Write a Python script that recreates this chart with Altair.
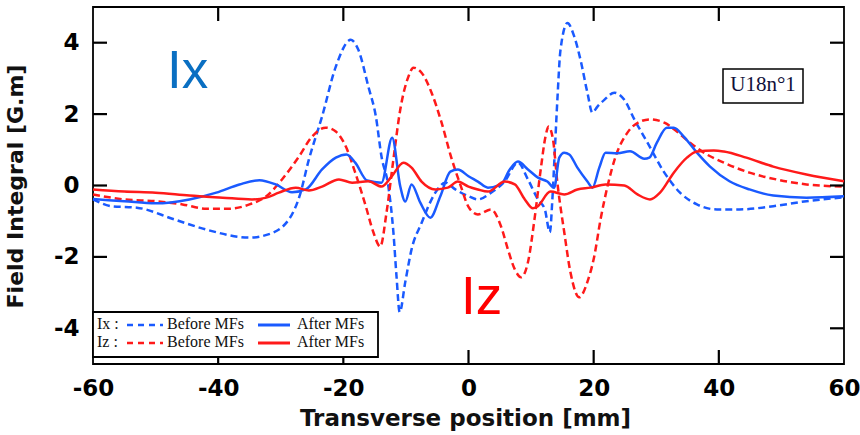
import altair as alt
import pandas as pd

# ---------------- data ----------------
ix_before_x = [-60, -57, -53, -47, -42, -35, -32, -28.7, -27, -25.5, -23.4, -21.2, -18.8, -17.6, -16, -14.8,
               -13.9, -12.8, -12, -11.5, -11, -10.1, -9.1, -7.5, -5.3, -3.7, -2.1, 0, 1.5, 3.6, 5.8, 7.9, 9.5,
               11.1, 12.2, 13, 13.4, 13.8, 14.2, 14.7, 15.8, 16.9, 17.9, 19, 19.8, 20.6, 21.7, 23.3, 24.9, 26.5,
               28.6, 31.3, 33.8, 36.5, 39.7, 43.3, 48.7, 54, 60]
ix_before_y = [-0.39, -0.58, -0.62, -0.95, -1.23, -1.46, -1.37, -0.95, -0.3, 0.73, 1.93, 3.33, 4.08, 3.8, 2.77,
               1.93, 0.81, -0.03, -1.31, -2.55, -3.55, -2.7, -1.79, -1.05, -0.2, 0.08, -0.11, -0.3, -0.39, -0.2,
               0.12, 0.64, 0.17, -0.39, -0.67, -1.31, -0.39, 1.0, 2.4, 3.8, 4.55, 4.17, 3.52, 2.6, 2.04, 2.21,
               2.4, 2.6, 2.4, 1.85, 1.2, 0.36, -0.2, -0.53, -0.67, -0.67, -0.58, -0.44, -0.33]

ix_after_x = [-60, -55, -50, -44.6, -40.3, -36.6, -33.4, -30.8, -28.2, -26, -23.4, -21.2, -19.5, -18.1, -16.2,
              -13.9, -12.2, -10.9, -10.1, -9.1, -7.7, -6.1, -4.5, -2.9, -1.7, 0, 1.5, 3.1, 5.2, 6.6, 7.9, 9.5,
              11.1, 12.6, 13.7, 14.5, 15.3, 16.1, 17.4, 19, 19.8, 20.9, 21.9, 23.8, 25.8, 28.1, 28.9, 30.1,
              31.7, 32.8, 34.4, 36.5, 38.6, 41.7, 44.9, 48.7, 54, 60]
ix_after_y = [-0.38, -0.44, -0.5, -0.39, -0.2, 0.03, 0.15, 0.03, -0.19, -0.11, 0.45, 0.78, 0.87, 0.64, 0.14,
              0.08, 1.34, -0.03, -0.45, 0.03, -0.48, -0.9, -0.3, 0.39, 0.45, 0.26, 0.11, -0.06, 0.03, 0.45,
              0.67, 0.45, 0.22, 0.11, -0.06, 0.78, 0.92, 0.87, 0.5, 0.11, -0.06, 0.5, 0.92, 0.9, 0.96, 0.75,
              0.78, 1.2, 1.62, 1.62, 1.37, 0.92, 0.53, 0.12, -0.11, -0.28, -0.34, -0.3]

iz_before_x = [-60, -55, -50, -45.7, -41.9, -38.2, -35, -32.3, -29.8, -27.1, -25, -22.8, -21.2, -19.6, -18.1,
               -16.4, -15.2, -14.1, -13.1, -12, -10.9, -9.6, -8.8, -7.5, -5.9, -4.3, -2.8, -1.2, 0, 1.5, 3.6,
               5.2, 6.3, 7.4, 8.4, 9.5, 10.6, 11.6, 12.3, 12.8, 13.5, 14.2, 15.3, 16.3, 17.7, 19, 20.1, 21.1,
               22.2, 23.5, 25.4, 27.4, 29, 31.3, 33.3, 35.4, 37.6, 40.8, 44.9, 49.2, 54, 60]
iz_before_y = [-0.25, -0.39, -0.44, -0.53, -0.65, -0.65, -0.53, -0.3, 0.17, 0.81, 1.37, 1.62, 1.51, 1.09, 0.36,
               -0.59, -1.31, -1.71, -0.76, 0.73, 2.13, 3.05, 3.3, 3.16, 2.6, 1.76, 0.81, -0.03, -0.6, -0.81,
               -0.67, -1.15, -1.79, -2.35, -2.57, -2.15, -0.87, 0.53, 1.37, 1.65, 1.29, 0.08, -1.31, -2.44,
               -3.13, -2.7, -1.98, -0.95, -0.03, 0.81, 1.48, 1.79, 1.85, 1.76, 1.51, 1.2, 0.92, 0.64, 0.36,
               0.17, 0.03, -0.03]

iz_after_x = [-60, -55, -50, -44.6, -39.3, -34.6, -32.3, -30.3, -27.6, -25.5, -23.4, -20.7, -18.6, -16, -13.9,
              -12.3, -10.4, -9.1, -7.5, -5.3, -3.3, -1.7, 0, 1.5, 3.1, 5.8, 7.4, 9, 10.3, 11, 13.1, 15.3, 17.4,
              19.5, 21.9, 24.9, 27, 29, 30.6, 32.8, 34.9, 36.5, 39.2, 40.8, 44.4, 48.7, 54, 60]
iz_after_y = [-0.11, -0.17, -0.2, -0.28, -0.34, -0.39, -0.34, -0.2, -0.06, -0.14, -0.03, 0.17, 0.08, 0.12,
              -0.03, 0.25, 0.64, 0.5, 0.11, -0.11, -0.06, 0.11, -0.03, -0.11, -0.17, 0.11, 0.03, -0.39, -0.64,
              -0.59, -0.17, -0.25, -0.11, -0.06, 0.03, 0, -0.25, -0.39, -0.2, 0.36, 0.78, 0.95, 0.98, 0.95,
              0.78, 0.53, 0.31, 0.12]

x_ticks = [-40, -20, 0, 20, 40]
y_ticks = [-4, -2, 0, 2, 4]
x_label_values = [-60, -40, -20, 0, 20, 40, 60]
x_domain = [-60, 60]
y_domain = [-5, 5]

x_title = "Transverse position [mm]"
y_title = "Field Integral [G.m]"
legend_rows = ["Ix :", "Iz :"]
legend_before = "Before MFs"
legend_after = "After MFs"
tag_text = "U18n°1"

BLUE = "#1a5aff"
RED = "#ff1a1a"
DASH = [7, 4]
W, H = 751, 357
TICK = 14

xs = alt.Scale(domain=x_domain, nice=False, zero=False)
ys = alt.Scale(domain=y_domain, nice=False, zero=False)

tick_font = "DejaVu Sans"


def frame(xv, yv):
    return pd.DataFrame({"x": xv, "y": yv})


# Layer 1: main labelled axes
l1 = alt.Chart(frame(ix_before_x, ix_before_y)).mark_line(
    color=BLUE, strokeWidth=2.5, strokeDash=DASH, interpolate="monotone"
).encode(
    x=alt.X("x:Q", scale=xs, title=x_title,
            axis=alt.Axis(values=x_label_values, tickSize=0, domain=False, grid=False, labelFlush=False,
                          labelExpr="'' + datum.value",
                          labelFont=tick_font, labelFontSize=23, labelFontWeight="bold", labelColor="black",
                          labelPadding=13, titleFont=tick_font, titleFontSize=23, titleFontWeight="bold",
                          titleColor="#111", titleX=372, titleY=54, titleBaseline="middle",
                          titleAlign="center")),
    y=alt.Y("y:Q", scale=ys, title=y_title,
            axis=alt.Axis(values=y_ticks, tickSize=0, domain=False, grid=False, labelFlush=False,
                          labelExpr="'' + datum.value",
                          labelFont=tick_font, labelFontSize=23, labelFontWeight="bold", labelColor="black",
                          labelPadding=14, titleFont=tick_font, titleFontSize=22, titleFontWeight="bold",
                          titleColor="#111", titleX=-78, titleY=179, titleAngle=-90,
                          titleBaseline="middle", titleAlign="center")),
)

l2 = alt.Chart(frame(iz_before_x, iz_before_y)).mark_line(
    color=RED, strokeWidth=2.5, strokeDash=DASH, interpolate="monotone"
).encode(x=alt.X("x:Q", scale=xs), y=alt.Y("y:Q", scale=ys))

l3 = alt.Chart(frame(ix_after_x, ix_after_y)).mark_line(
    color=BLUE, strokeWidth=2.5, interpolate="monotone"
).encode(x=alt.X("x:Q", scale=xs), y=alt.Y("y:Q", scale=ys))

l4 = alt.Chart(frame(iz_after_x, iz_after_y)).mark_line(
    color=RED, strokeWidth=2.5, interpolate="monotone"
).encode(x=alt.X("x:Q", scale=xs), y=alt.Y("y:Q", scale=ys))

# inward tick marks on all four sides, placed along the axes by the scales
xt = pd.DataFrame({"tx": x_ticks})
yt = pd.DataFrame({"ty": y_ticks})
tick_bottom = alt.Chart(xt).mark_rule(color="#000000", strokeWidth=2.2).encode(
    x=alt.X("tx:Q", scale=xs), y=alt.value(H), y2=alt.value(H - TICK))
tick_top = alt.Chart(xt).mark_rule(color="#000000", strokeWidth=2.2).encode(
    x=alt.X("tx:Q", scale=xs), y=alt.value(0), y2=alt.value(TICK))
tick_left = alt.Chart(yt).mark_rule(color="#000000", strokeWidth=2.2).encode(
    y=alt.Y("ty:Q", scale=ys), x=alt.value(0), x2=alt.value(TICK))
tick_right = alt.Chart(yt).mark_rule(color="#000000", strokeWidth=2.2).encode(
    y=alt.Y("ty:Q", scale=ys), x=alt.value(W), x2=alt.value(W - TICK))

one = pd.DataFrame({"k": [0]})

# Big annotations
ix_lbl = alt.Chart(one).mark_text(
    text="Ix", font="Liberation Sans", fontSize=53, color="#0a6fc2", align="left", baseline="alphabetic"
).encode(x=alt.value(74), y=alt.value(81))
iz_lbl = alt.Chart(one).mark_text(
    text="Iz", font="Liberation Sans", fontSize=53, color="#ff0000", align="left", baseline="alphabetic"
).encode(x=alt.value(368), y=alt.value(307))

# Tag box
tag_box = alt.Chart(one).mark_rect(fill="white", stroke="black", strokeWidth=1.5).encode(
    x=alt.value(630), x2=alt.value(710), y=alt.value(62), y2=alt.value(96))
tag_txt = alt.Chart(one).mark_text(
    text=tag_text, font="Liberation Serif", fontSize=21, color="#10103a", align="center",
    baseline="alphabetic").encode(x=alt.value(670), y=alt.value(84))

# Legend (drawn after the ticks so that its white box hides the tick behind it)
leg_box = alt.Chart(one).mark_rect(fill="white", stroke="black", strokeWidth=1.8).encode(
    x=alt.value(0), x2=alt.value(285), y=alt.value(305), y2=alt.value(350))

leg_layers = [leg_box]
for i, (lab, col) in enumerate(zip(legend_rows, [BLUE, RED])):
    ly = 318 + 18 * i
    ty = 322 + 18 * i
    leg_layers.append(alt.Chart(one).mark_text(
        text=lab, font="Liberation Serif", fontSize=16, color="#111", align="left", baseline="alphabetic"
    ).encode(x=alt.value(4), y=alt.value(ty)))
    leg_layers.append(alt.Chart(one).mark_rule(color=col, strokeWidth=2.5, strokeDash=[6, 5]).encode(
        x=alt.value(34), x2=alt.value(70), y=alt.value(ly)))
    leg_layers.append(alt.Chart(one).mark_text(
        text=legend_before, font="Liberation Serif", fontSize=16, color="#111", align="left",
        baseline="alphabetic").encode(x=alt.value(74), y=alt.value(ty)))
    leg_layers.append(alt.Chart(one).mark_rule(color=col, strokeWidth=3).encode(
        x=alt.value(165), x2=alt.value(197), y=alt.value(ly)))
    leg_layers.append(alt.Chart(one).mark_text(
        text=legend_after, font="Liberation Serif", fontSize=16, color="#111", align="left",
        baseline="alphabetic").encode(x=alt.value(204), y=alt.value(ty)))

chart = alt.layer(
    l1, l2, l3, l4, tick_bottom, tick_top, tick_left, tick_right,
    ix_lbl, iz_lbl, tag_box, tag_txt, *leg_layers
).properties(
    width=W, height=H,
    autosize=alt.AutoSizeParams(type="none"),
    padding={"left": 93, "top": 7, "right": 16, "bottom": 71},
    background="white",
).configure_view(
    stroke="black", strokeWidth=1.8
)

chart.save("out.html", embed_options={"renderer": "svg", "actions": False})
